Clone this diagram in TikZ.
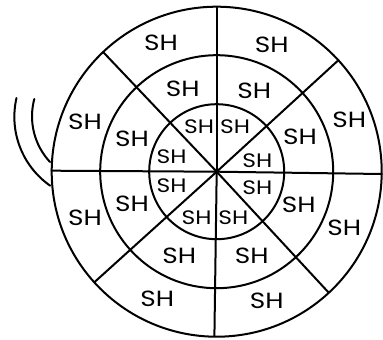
\documentclass[tikz,border=0pt]{standalone}
\usepackage{fontspec}
\setmainfont[FakeStretch=1.2]{Poppins}
\usetikzlibrary{calc}
\begin{document}
\begin{tikzpicture}[x=1pt,y=-1pt,
  ln/.style={line width=2pt, line cap=round},
  sh/.style={font=\fontsize{22}{22}\selectfont, inner sep=0pt},
  shi/.style={font=\fontsize{19.5}{19.5}\selectfont, inner sep=0pt}]
\useasboundingbox (0,0) rectangle (383,340);
\coordinate (c) at (216.7,171.7);
% circles
\draw[ln] (c) circle[radius=67.5];
\draw[ln] (c) circle[radius=116.5];
\draw[ln] (c) circle[radius=165];
% spokes
\coordinate (e0) at ($(c)+(0.8:165.3)$);
\coordinate (e1) at ($(c)+(-42.5:165)$);
\coordinate (e2) at ($(c)+(-90:164)$);
\coordinate (e3) at ($(c)+(-133.5:165)$);
\coordinate (e4) at ($(c)+(180.35:165.2)$);
\coordinate (e5) at ($(c)+(137.9:165)$);
\coordinate (e6) at ($(c)+(90.8:164.3)$);
\coordinate (e7) at ($(c)+(47.2:165)$);
\foreach \e in {e0,e1,e2,e3,e4,e5,e6,e7} \draw[ln] (c) -- (\e);
% left arcs
\draw[ln] (16.5,98) arc[start angle=193, end angle=125, radius=84];
\draw[ln] (34.3,99) arc[start angle=195, end angle=137, radius=67];
% outer ring labels
\node[sh] (o1) at (161,43.3) {SH};
\node[sh] (o2) at (271.7,45) {SH};
\node[sh] (o3) at (85,121.7) {SH};
\node[sh] (o4) at (349.3,120) {SH};
\node[sh] (o5) at (85,218.3) {SH};
\node[sh] (o6) at (344.3,228.3) {SH};
\node[sh] (o7) at (157.3,299.3) {SH};
\node[sh] (o8) at (266.7,301) {SH};
% middle ring labels
\node[sh] (m1) at (182.7,89.3) {SH};
\node[sh] (m2) at (254.3,90.7) {SH};
\node[sh] (m3) at (132,139.3) {SH};
\node[sh] (m4) at (300,136.7) {SH};
\node[sh] (m5) at (132,204) {SH};
\node[sh] (m6) at (298.7,205) {SH};
\node[sh] (m7) at (179.3,256) {SH};
\node[sh] (m8) at (251.7,256) {SH};
% inner ring labels
\node[shi] (i1) at (199,126.7) {SH};
\node[shi] (i2) at (235,126.7) {SH};
\node[shi] (i3) at (171.7,156.7) {SH};
\node[shi] (i4) at (257.3,161) {SH};
\node[shi] (i5) at (171.7,185.3) {SH};
\node[shi] (i6) at (257.3,187.7) {SH};
\node[shi] (i7) at (196.7,217.7) {SH};
\node[shi] (i8) at (233.3,217.7) {SH};
\end{tikzpicture}
\end{document}
